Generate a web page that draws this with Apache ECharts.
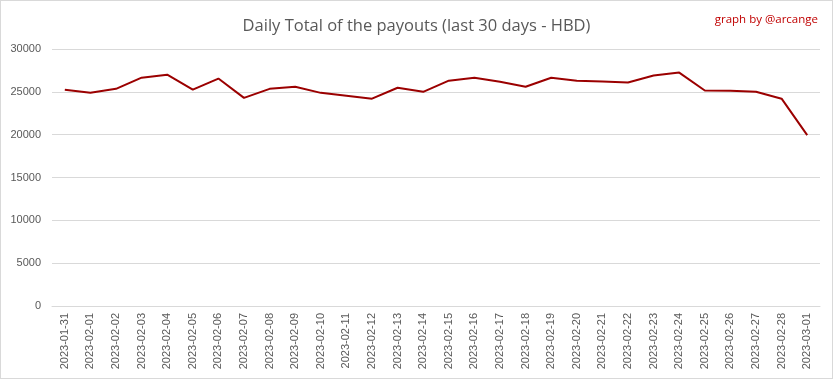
<!DOCTYPE html>
<html><head><meta charset="utf-8">
<script src="https://cdn.jsdelivr.net/npm/echarts@6/dist/echarts.min.js"></script>
<style>
html,body{margin:0;padding:0;background:#fff;}
#c{width:831px;height:377px;border:1px solid #d9d9d9;}
</style></head>
<body><div id="c"></div>
<script>
const categories = ['2023-01-31','2023-02-01','2023-02-02','2023-02-03','2023-02-04','2023-02-05','2023-02-06','2023-02-07','2023-02-08','2023-02-09','2023-02-10','2023-02-11','2023-02-12','2023-02-13','2023-02-14','2023-02-15','2023-02-16','2023-02-17','2023-02-18','2023-02-19','2023-02-20','2023-02-21','2023-02-22','2023-02-23','2023-02-24','2023-02-25','2023-02-26','2023-02-27','2023-02-28','2023-03-01'];
const payouts = [25250,24900,25350,26650,27000,25250,26550,24300,25350,25600,24880,24550,24200,25480,25000,26300,26650,26180,25600,26650,26300,26200,26080,26900,27250,25150,25120,25000,24200,19950];
const yTicks = {min:0, max:30000, interval:5000};
const chart = echarts.init(document.getElementById('c'));
chart.setOption({
  animation:false,
  title:[{text:'Daily Total of the payouts (last 30 days - HBD)', left:'center', top:12,
    textStyle:{fontFamily:'Open Sans', fontSize:16.5, fontWeight:'normal', color:'#595959'}},
    {text:'graph by @arcange', right:9, top:8,
    textStyle:{fontFamily:'Open Sans', fontSize:11.5, fontWeight:'normal', color:'#c00000'}}],
  grid:{left:51, right:12, top:48, bottom:72},
  xAxis:{type:'category', data:categories, boundaryGap:true,
    axisLine:{lineStyle:{color:'#d9d9d9'}}, axisTick:{show:false},
    axisLabel:{rotate:90, color:'#595959', fontSize:11, fontFamily:'Liberation Sans', interval:0, margin:7}},
  yAxis:{type:'value', min:yTicks.min, max:yTicks.max, interval:yTicks.interval,
    axisLine:{show:false}, axisTick:{show:false},
    axisLabel:{color:'#595959', fontSize:11, fontFamily:'Liberation Sans', margin:11, formatter:v=>String(v)},
    splitLine:{lineStyle:{color:'#d9d9d9'}}},
  series:[{type:'line', data:payouts, symbol:'none', lineStyle:{color:'#9b0000', width:2}, itemStyle:{color:'#9b0000'}}]
});
</script></body></html>
